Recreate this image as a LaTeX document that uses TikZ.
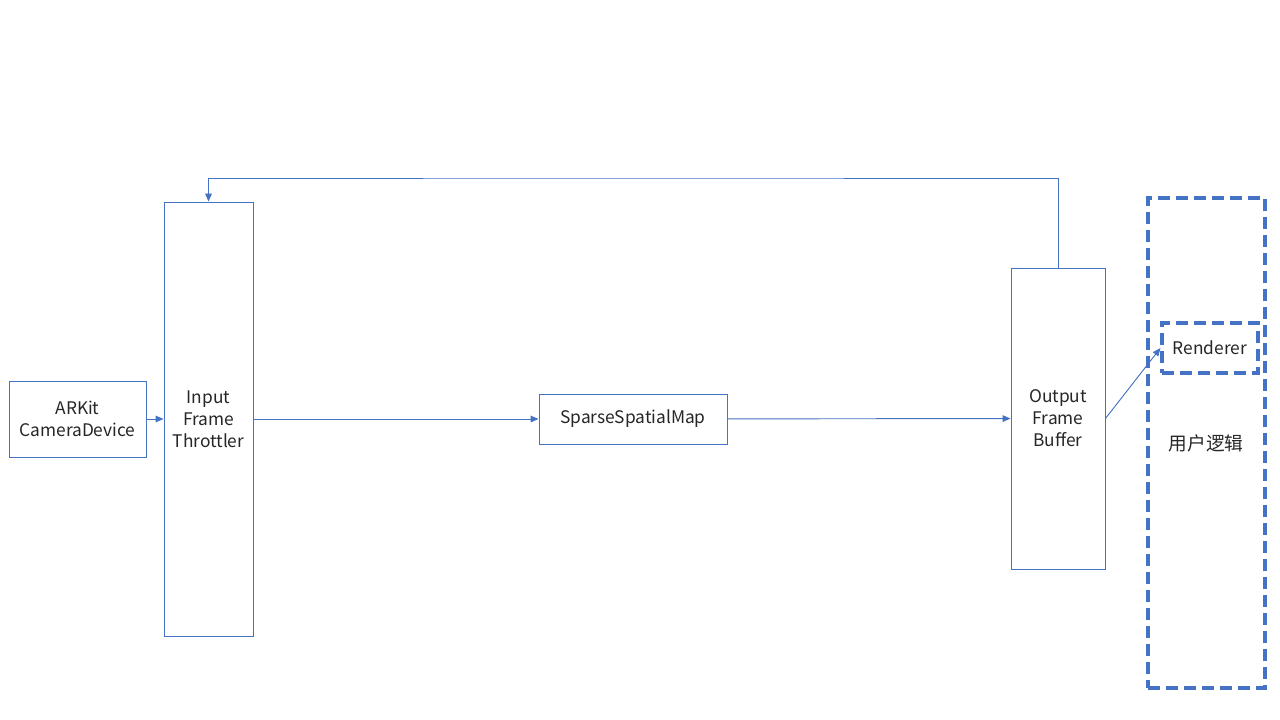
\documentclass[tikz,border=0pt]{standalone}
\usepackage{fontspec}
\setmainfont{Noto Sans CJK SC}
\definecolor{myblue}{RGB}{68,114,196}
\usetikzlibrary{positioning,arrows.meta}

\begin{document}
\begin{tikzpicture}[x=0.75pt,y=-0.75pt,
    every node/.style={font=\fontsize{13}{16.5}\selectfont,text=black!85},
    block/.style={draw=myblue,line width=0.7pt,align=center,inner sep=0pt},
    dashbox/.style={draw=myblue,line width=2.3pt,dash pattern=on 9pt off 4.5pt,inner sep=0pt},
    link/.style={draw=myblue,line width=0.7pt,-{Triangle[length=6pt,width=5pt]}}
    ]
    \useasboundingbox (0,0) rectangle (1280,720);

    \node (user) [dashbox,minimum width=87.75pt,minimum height=367.5pt] at (1206.5,443) {};
    \node (cam) [block,minimum width=102.75pt,minimum height=57pt] at (77.5,419) {ARKit\\CameraDevice};
    \node (thr) [block,minimum width=66.75pt,minimum height=325.5pt] at (208.5,419) {Input\\Frame\\Throttler};
    \node (ssm) [block,minimum width=141pt,minimum height=37.5pt] at (633,419) {SparseSpatialMap};
    \node (out) [block,minimum width=70.5pt,minimum height=225.75pt] at (1058,418.5) {Output\\Frame\\Buffer};
    \node (ren) [dashbox,minimum width=72pt,minimum height=37.5pt,label={[text=black!85]center:Renderer}] at (1210,348) {};
    \node (logic) [font=\fontsize{14}{16}\selectfont] at (1206,443) {用户逻辑};

    % the edges
    \draw[link] (cam) -- (thr);
    \draw[link] (thr) -- (ssm);
    \draw[link] (ssm) -- (out);
    \draw[link] (out.east) -- (ren.west);
    \draw[link] (out.north) |- (633,178) -| (thr.north);
\end{tikzpicture}
\end{document}
